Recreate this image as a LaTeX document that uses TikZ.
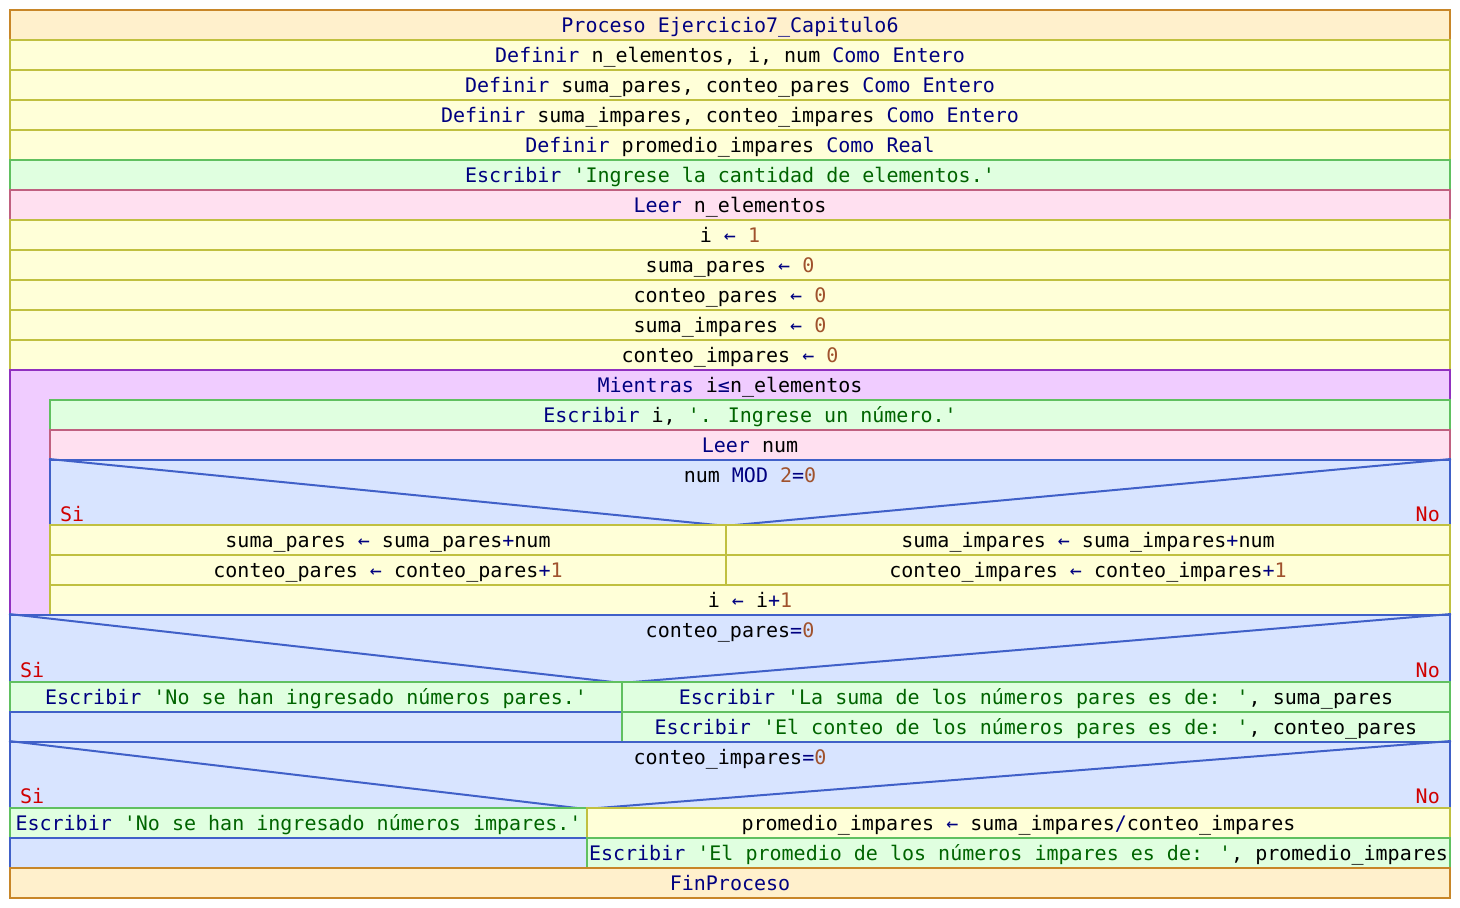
\documentclass[tikz,border=0pt]{standalone}
\usepackage{fontspec}
\setmainfont{DejaVu Sans Mono}[Ligatures=TeXOff]
\definecolor{hdrfill}{HTML}{FFF0CC}
\definecolor{hdrline}{HTML}{C88628}
\definecolor{dfnfill}{HTML}{FFFFD8}
\definecolor{dfnline}{HTML}{C0C040}
\definecolor{wrtfill}{HTML}{E0FFE0}
\definecolor{wrtline}{HTML}{60C060}
\definecolor{rdfill}{HTML}{FFE0F0}
\definecolor{rdline}{HTML}{C06080}
\definecolor{lpfill}{HTML}{F0CCFF}
\definecolor{lpline}{HTML}{9030C0}
\definecolor{cndfill}{HTML}{D8E4FF}
\definecolor{cndline}{HTML}{4060C8}
\definecolor{kwc}{HTML}{000080}
\definecolor{strc}{HTML}{006400}
\definecolor{numc}{HTML}{A0522D}
\definecolor{brc}{HTML}{D00000}
\newcommand{\kw}[1]{\textcolor{kwc}{#1}}
\newcommand{\tstr}[1]{\textcolor{strc}{#1}}
\newcommand{\tnum}[1]{\textcolor{numc}{#1}}
\newcommand{\asg}{\textcolor{kwc}{←}}
\begin{document}
\begin{tikzpicture}[x=1pt,y=-1pt,
  cell/.style={rectangle, inner sep=0pt, line width=2pt, text height=18pt, text depth=3pt,
    font=\fontsize{20}{24}\selectfont},
  txt/.style={inner sep=0pt, text height=18pt, text depth=3pt, font=\fontsize{20}{24}\selectfont},
  branch/.style={inner sep=0pt, font=\fontsize{20}{24}\selectfont, text=brc},
  hdr/.style={cell, fill=hdrfill, draw=hdrline},
  dfn/.style={cell, fill=dfnfill, draw=dfnline},
  wrt/.style={cell, fill=wrtfill, draw=wrtline},
  rd/.style={cell, fill=rdfill, draw=rdline},
  lp/.style={cell, fill=lpfill, draw=lpline},
  cnd/.style={cell, fill=cndfill, draw=cndline},
  diag/.style={draw=cndline, line width=2pt},
  full/.style={minimum width=1440pt, minimum height=30pt},
  inner/.style={minimum width=1400pt, minimum height=30pt}]
\fill[white] (0,0) rectangle (1460,908);
\useasboundingbox (0,0) rectangle (1460,908);

% declarations and initial assignments
\node[hdr, full] (proc) at (730,25) {\kw{Proceso Ejercicio7\_Capitulo6}};
\node[dfn, full] (def1) at (730,55) {\kw{Definir} n\_elementos, i, num \kw{Como Entero}};
\node[dfn, full] (def2) at (730,85) {\kw{Definir} suma\_pares, conteo\_pares \kw{Como Entero}};
\node[dfn, full] (def3) at (730,115) {\kw{Definir} suma\_impares, conteo\_impares \kw{Como Entero}};
\node[dfn, full] (def4) at (730,145) {\kw{Definir} promedio\_impares \kw{Como Real}};
\node[wrt, full] (out1) at (730,175) {\kw{Escribir} \tstr{'Ingrese la cantidad de elementos.'}};
\node[rd, full] (in1) at (730,205) {\kw{Leer} n\_elementos};
\node[dfn, full] (as1) at (730,235) {i \asg{} \tnum{1}};
\node[dfn, full] (as2) at (730,265) {suma\_pares \asg{} \tnum{0}};
\node[dfn, full] (as3) at (730,295) {conteo\_pares \asg{} \tnum{0}};
\node[dfn, full] (as4) at (730,325) {suma\_impares \asg{} \tnum{0}};
\node[dfn, full] (as5) at (730,355) {conteo\_impares \asg{} \tnum{0}};

% while loop
\node[lp, minimum width=1440pt, minimum height=245pt] (loop) at (730,492.5) {};
\node[txt] (looptxt) at (730,385) {\kw{Mientras} i\kw{≤}n\_elementos};
\node[wrt, inner] (out2) at (750,415) {\kw{Escribir} i, \tstr{'. Ingrese un número.'}};
\node[rd, inner] (in2) at (750,445) {\kw{Leer} num};

% if num MOD 2 = 0
\node[cnd, minimum width=1400pt, minimum height=65pt] (if1) at (750,492.5) {};
\coordinate (if1l) at (717,525);
\coordinate (if1r) at (735,525);
\draw[diag] (if1.north west) -- (if1l);
\draw[diag] (if1.north east) -- (if1r);
\node[txt] (if1txt) at (750,475) {num \kw{MOD} \tnum{2}\kw{=}\tnum{0}};
\node[branch, anchor=base west] (if1si) at (60,521) {Si};
\node[branch, anchor=base east] (if1no) at (1440,521) {No};
\node[dfn, minimum width=676pt, minimum height=30pt] (p1) at (388,540) {suma\_pares \asg{} suma\_pares\kw{+}num};
\node[dfn, minimum width=724pt, minimum height=30pt] (q1) at (1088,540) {suma\_impares \asg{} suma\_impares\kw{+}num};
\node[dfn, minimum width=676pt, minimum height=30pt] (p2) at (388,570) {conteo\_pares \asg{} conteo\_pares\kw{+}\tnum{1}};
\node[dfn, minimum width=724pt, minimum height=30pt] (q2) at (1088,570) {conteo\_impares \asg{} conteo\_impares\kw{+}\tnum{1}};
\node[dfn, inner] (inc) at (750,600) {i \asg{} i\kw{+}\tnum{1}};

% if conteo_pares = 0
\node[cnd, minimum width=1440pt, minimum height=67pt] (if2) at (730,648.5) {};
\coordinate (if2l) at (613,682);
\coordinate (if2r) at (633,682);
\draw[diag] (if2.north west) -- (if2l);
\draw[diag] (if2.north east) -- (if2r);
\node[txt] (if2txt) at (730,630) {conteo\_pares\kw{=}\tnum{0}};
\node[branch, anchor=base west] (if2si) at (20,677) {Si};
\node[branch, anchor=base east] (if2no) at (1440,677) {No};
\node[wrt, minimum width=612pt, minimum height=30pt] (r1) at (316,697) {\kw{Escribir} \tstr{'No se han ingresado números pares.'}};
\node[wrt, minimum width=828pt, minimum height=30pt] (s1) at (1036,697) {\kw{Escribir} \tstr{'La suma de los números pares es de: '}, suma\_pares};
\node[cnd, minimum width=612pt, minimum height=30pt] (r2) at (316,727) {};
\node[wrt, minimum width=828pt, minimum height=30pt] (s2) at (1036,727) {\kw{Escribir} \tstr{'El conteo de los números pares es de: '}, conteo\_pares};

% if conteo_impares = 0
\node[cnd, minimum width=1440pt, minimum height=66pt] (if3) at (730,775) {};
\coordinate (if3l) at (577,808);
\coordinate (if3r) at (598,808);
\draw[diag] (if3.north west) -- (if3l);
\draw[diag] (if3.north east) -- (if3r);
\node[txt] (if3txt) at (730,757) {conteo\_impares\kw{=}\tnum{0}};
\node[branch, anchor=base west] (if3si) at (20,803) {Si};
\node[branch, anchor=base east] (if3no) at (1440,803) {No};
\node[wrt, minimum width=577pt, minimum height=30pt] (t1) at (298.5,823) {\kw{Escribir} \tstr{'No se han ingresado números impares.'}};
\node[dfn, minimum width=863pt, minimum height=30pt] (u1) at (1018.5,823) {promedio\_impares \asg{} suma\_impares\kw{/}conteo\_impares};
\node[cnd, minimum width=577pt, minimum height=30pt] (t2) at (298.5,853) {};
\node[wrt, minimum width=863pt, minimum height=30pt] (u2) at (1018.5,853) {\kw{Escribir} \tstr{'El promedio de los números impares es de: '}, promedio\_impares};

\node[hdr, full] (fin) at (730,883) {\kw{FinProceso}};
\end{tikzpicture}
\end{document}
